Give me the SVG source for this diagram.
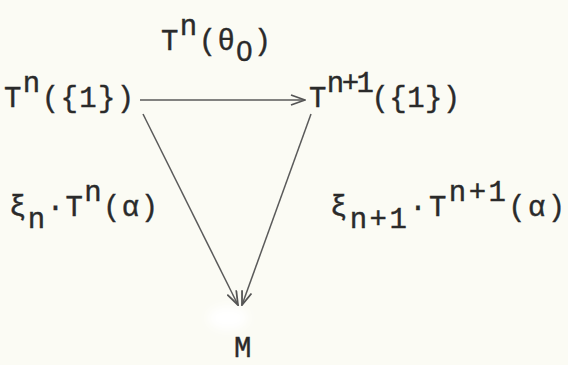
<svg xmlns="http://www.w3.org/2000/svg" width="568" height="365" viewBox="0 0 568 365">
  <defs>
    <style>
      text { font-family: "Liberation Mono", "DejaVu Sans Mono", monospace; font-size: 29px; letter-spacing: 1.4px; fill: #2a2a2a; stroke: #2a2a2a; stroke-width: 0.4px; }
      .z { font-family: "Liberation Sans", sans-serif; }
      .edge { stroke: #5a5a5a; stroke-width: 1.5; fill: none; }
    </style>
    <marker id="arr" viewBox="0 0 16 12" refX="15" refY="6" markerWidth="16" markerHeight="12" markerUnits="userSpaceOnUse" orient="auto">
      <path d="M1,1 L15,6 L1,11" fill="none" stroke="#555" stroke-width="1.8"/>
    </marker>
    <filter id="blur" x="-50%" y="-50%" width="200%" height="200%">
      <feGaussianBlur stdDeviation="5"/>
    </filter>
  </defs>
  <rect width="568" height="365" fill="#fbfbf4"/>
  <ellipse cx="228" cy="318" rx="20" ry="12" fill="#ffffff" filter="url(#blur)"/>

  <g id="connectors">
    <line class="edge" x1="140" y1="100" x2="305" y2="100" marker-end="url(#arr)"/>
    <line class="edge" x1="143" y1="114" x2="238" y2="305" marker-end="url(#arr)"/>
    <line class="edge" x1="311" y1="114" x2="242" y2="305" marker-end="url(#arr)"/>
  </g>

  <g id="label-top">
    <text x="161" y="50">T<tspan dy="-15">n</tspan><tspan dy="15">(θ</tspan><tspan class="z" dy="11">0</tspan><tspan dy="-11">)</tspan></text>
  </g>

  <g id="node-Tn">
    <text x="4" y="107">T<tspan dy="-15">n</tspan><tspan dy="15">({1})</tspan></text>
  </g>

  <g id="node-Tn1">
    <text x="309" y="107" style="letter-spacing:0.4px">T<tspan dy="-15" style="letter-spacing:-2.5px">n+1</tspan><tspan dy="15">({1})</tspan></text>
  </g>

  <g id="label-left">
    <text x="9" y="216">ξ<tspan dy="12">n</tspan><tspan dy="-12">·T</tspan><tspan dy="-15">n</tspan><tspan dy="15">(α)</tspan></text>
  </g>

  <g id="label-right">
    <text x="330" y="216" style="letter-spacing:2.4px">ξ<tspan dy="12">n+1</tspan><tspan dy="-12">·T</tspan><tspan dy="-15">n+1</tspan><tspan dy="15">(α)</tspan></text>
  </g>

  <g id="node-M">
    <text x="234" y="357">M</text>
  </g>
</svg>
